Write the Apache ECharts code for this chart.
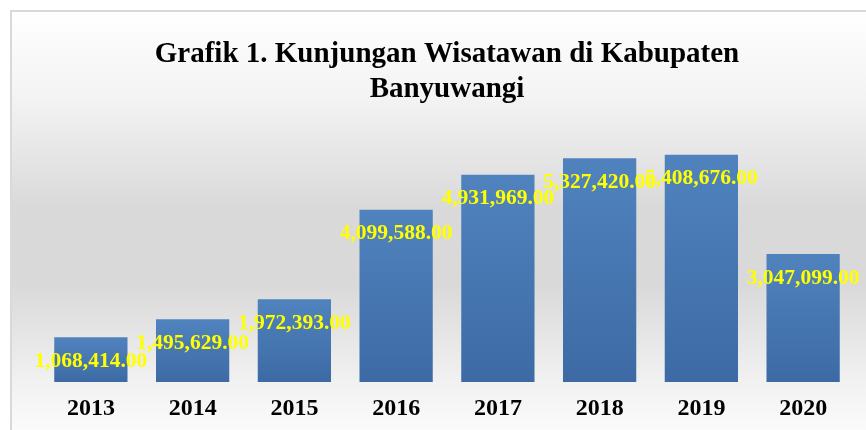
<!DOCTYPE html>
<html>
<head>
<meta charset="utf-8">
<script src="https://cdn.jsdelivr.net/npm/echarts@6/dist/echarts.min.js"></script>
<style>
  html, body { margin: 0; padding: 0; background: #fff; }
  #main { width: 866px; height: 430px; }
</style>
</head>
<body>
<div id="main"></div>
<script>
// data
var years = ["2013", "2014", "2015", "2016", "2017", "2018", "2019", "2020"];
var visitors = [1068414, 1495629, 1972393, 4099588, 4931969, 5327420, 5408676, 3047099];

var serif = "'Liberation Serif', 'Times New Roman', serif";

function fmt(v) {
  return v.toString().replace(/\B(?=(\d{3})+(?!\d))/g, ",") + ".00";
}

var chart = echarts.init(document.getElementById("main"));

chart.setOption({
  animation: false,
  // panel with border and grey gradient
  graphic: [{
    type: "rect",
    z: -10,
    silent: true,
    shape: { x: 11, y: 11, width: 880, height: 440 },
    style: {
      stroke: "#d9d9d9",
      lineWidth: 2,
      fill: new echarts.graphic.LinearGradient(0, 0, 0, 1, [
        { offset: 0, color: "#ffffff" },
        { offset: 0.2, color: "#f3f3f3" },
        { offset: 0.45, color: "#d9d9d9" },
        { offset: 0.62, color: "#d9d9d9" },
        { offset: 0.85, color: "#f2f2f2" },
        { offset: 1, color: "#ffffff" }
      ])
    }
  }],
  title: {
    text: "Grafik 1. Kunjungan Wisatawan di Kabupaten\nBanyuwangi",
    left: 442,
    top: 32,
    textAlign: "center",
    textStyle: {
      fontFamily: serif,
      fontWeight: "bold",
      fontSize: 29,
      lineHeight: 35,
      color: "#000"
    }
  },
  grid: { left: 40, right: 12, top: 130, bottom: 48 },
  xAxis: {
    type: "category",
    data: years,
    axisLine: { show: false },
    axisTick: { show: false },
    axisLabel: {
      margin: 15,
      fontFamily: serif,
      fontWeight: "bold",
      fontSize: 24,
      color: "#000"
    }
  },
  yAxis: {
    type: "value",
    min: 0,
    max: 6000000,
    show: false,
    splitLine: { show: false }
  },
  series: [{
    type: "bar",
    data: visitors,
    barWidth: "72%",
    itemStyle: {
      color: new echarts.graphic.LinearGradient(0, 0, 0, 1, [
        { offset: 0, color: "#5083be" },
        { offset: 1, color: "#3d6aa4" }
      ])
    },
    label: {
      show: true,
      position: "insideTop",
      distance: 13,
      formatter: function (p) { return fmt(p.value); },
      fontFamily: serif,
      fontWeight: "bold",
      fontSize: 21.5,
      color: "#ffff00"
    }
  }]
});
</script>
</body>
</html>
